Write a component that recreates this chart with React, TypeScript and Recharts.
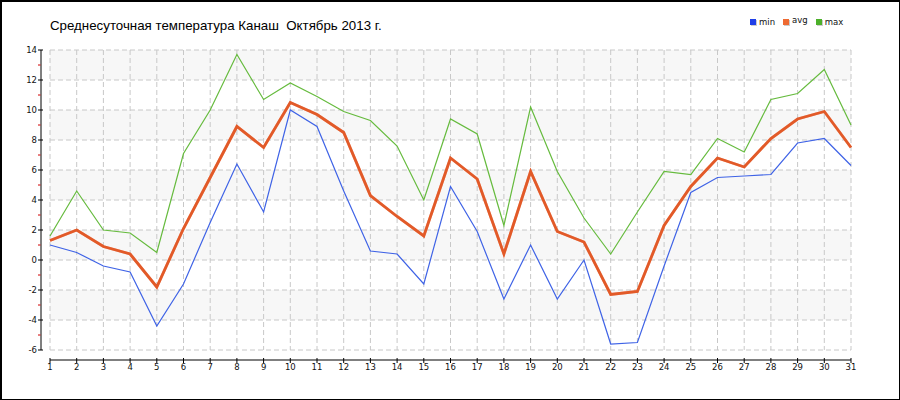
import React from 'react';
import { LineChart, Line, XAxis, YAxis, CartesianGrid } from 'recharts';

const days = [1, 2, 3, 4, 5, 6, 7, 8, 9, 10, 11, 12, 13, 14, 15, 16, 17, 18, 19, 20, 21, 22, 23, 24, 25, 26, 27, 28, 29, 30, 31];
const minT = [1.0, 0.5, -0.4, -0.8, -4.4, -1.6, 2.5, 6.4, 3.2, 10.0, 8.9, 4.6, 0.6, 0.4, -1.6, 4.9, 1.9, -2.6, 1.0, -2.6, 0.0, -5.6, -5.5, -0.4, 4.5, 5.5, 5.6, 5.7, 7.8, 8.1, 6.3];
const avgT = [1.3, 2.0, 0.9, 0.4, -1.8, 2.1, 5.5, 8.9, 7.5, 10.5, 9.7, 8.5, 4.3, 2.9, 1.6, 6.8, 5.4, 0.4, 5.9, 1.9, 1.2, -2.3, -2.1, 2.3, 4.9, 6.8, 6.2, 8.1, 9.4, 9.9, 7.5];
const maxT = [1.6, 4.6, 2.0, 1.8, 0.5, 7.1, 10.0, 13.7, 10.7, 11.8, 10.9, 9.9, 9.3, 7.6, 4.0, 9.4, 8.4, 2.3, 10.2, 5.9, 2.8, 0.4, 3.2, 5.9, 5.7, 8.1, 7.2, 10.7, 11.1, 12.7, 9.0];
const yTicks = [-6, -5, -4, -3, -2, -1, 0, 1, 2, 3, 4, 5, 6, 7, 8, 9, 10, 11, 12, 13, 14];
const yLabelTicks = [-6, -4, -2, 0, 2, 4, 6, 8, 10, 12, 14];
const title = 'Среднесуточная температура Канаш  Октябрь 2013 г.';
const seriesKeys = ['min', 'avg', 'max'];
const seriesColors: Record<string, string> = { min: '#3f63e6', avg: '#e25a28', max: '#66bb3e' };
const legendColors: Record<string, string> = { min: '#1f3fe8', avg: '#ee6a32', max: '#4cb02a' };

const data = days.map((d, i) => ({ day: d, min: minT[i], avg: avgT[i], max: maxT[i] }));

const smallFont = 'DejaVu Sans';

const XTick = (props: any) => {
  const { x, y, payload } = props;
  return (
    <g>
      <line x1={x} x2={x} y1={y + 8} y2={y + 13} stroke="#000" strokeWidth={1} />
      <text x={x} y={y + 19.5} textAnchor="middle" fontSize={8.5} fontFamily={smallFont} fill="#111">
        {payload.value}
      </text>
    </g>
  );
};

const YTick = (props: any) => {
  const { x, y, payload } = props;
  const v = payload.value;
  const major = yLabelTicks.indexOf(v) >= 0;
  if (!major) {
    return <line x1={x - 12} x2={x - 9.5} y1={y} y2={y} stroke="#d00000" strokeWidth={1} />;
  }
  return (
    <g>
      <line x1={x - 12} x2={x - 7} y1={y} y2={y} stroke="#000" strokeWidth={1} />
      <text x={x - 13} y={y} dy="0.35em" textAnchor="end" fontSize={8.5} fontFamily={smallFont} fill="#111">
        {v}
      </text>
    </g>
  );
};

export default function App() {
  return (
    <div style={{ position: 'absolute', left: 0, top: 0, width: 900, height: 400, background: '#fff', overflow: 'hidden' }}>
      <style>{`.avg-line path { filter: drop-shadow(0.8px 0.8px 0.6px rgba(240,130,100,0.55)); }`}</style>
      <div
        style={{
          position: 'absolute',
          left: 50,
          top: 18,
          fontFamily: 'Liberation Sans, Arial, sans-serif',
          fontSize: 13.3,
          whiteSpace: 'pre',
          color: '#000',
        }}
      >
        {title}
      </div>
      <div style={{ position: 'absolute', left: 750, top: 17, display: 'flex', alignItems: 'center', fontFamily: smallFont, fontSize: 8.5, color: '#111' }}>
        {seriesKeys.map((k) => (
          <div key={k} style={{ display: 'flex', alignItems: 'center', marginRight: 8 }}>
            <span style={{ display: 'inline-block', width: 6, height: 6, background: legendColors[k], marginRight: 3, boxShadow: '1px 1px 0 #ccc' }} />
            <span style={{ position: 'relative', top: k === 'avg' ? -2 : 0 }}>{k}</span>
          </div>
        ))}
      </div>
      <div style={{ position: 'absolute', left: 0, top: 0 }}>
        <LineChart width={900} height={400} data={data} margin={{ top: 50, right: 49, bottom: 0, left: 10 }}>
          <CartesianGrid
            stroke="#c8c8c8"
            strokeDasharray="5 3"
            horizontalValues={yLabelTicks}
            horizontalFill={['#f7f7f7', '#ffffff']}
            fillOpacity={1}
          />
          <XAxis
            dataKey="day"
            type="number"
            domain={[1, 31]}
            ticks={days}
            interval={0}
            height={50}
            tickSize={0}
            tickMargin={0}
            tickLine={false}
            axisLine={{ stroke: '#000', strokeWidth: 1, transform: 'translate(0 10)' }}
            tick={<XTick />}
          />
          <YAxis
            type="number"
            domain={[-6, 14]}
            ticks={yTicks}
            interval={0}
            width={40}
            tickSize={0}
            tickMargin={0}
            tickLine={false}
            axisLine={{ stroke: '#000', strokeWidth: 1, transform: 'translate(-9 0)' }}
            tick={<YTick />}
          />
          <Line type="linear" dataKey="min" stroke={seriesColors.min} strokeWidth={1.2} dot={false} isAnimationActive={false} />
          <Line type="linear" dataKey="max" stroke={seriesColors.max} strokeWidth={1.2} dot={false} isAnimationActive={false} />
          <Line className="avg-line" type="linear" dataKey="avg" stroke={seriesColors.avg} strokeWidth={2.8} dot={false} isAnimationActive={false} />
        </LineChart>
      </div>
      <div
        style={{
          position: 'absolute',
          left: 0,
          top: 0,
          width: 900,
          height: 400,
          boxSizing: 'border-box',
          borderTop: '2px solid #000',
          borderLeft: '2px solid #000',
          borderRight: '1px solid #000',
          borderBottom: '1px solid #000',
          pointerEvents: 'none',
        }}
      />
    </div>
  );
}
